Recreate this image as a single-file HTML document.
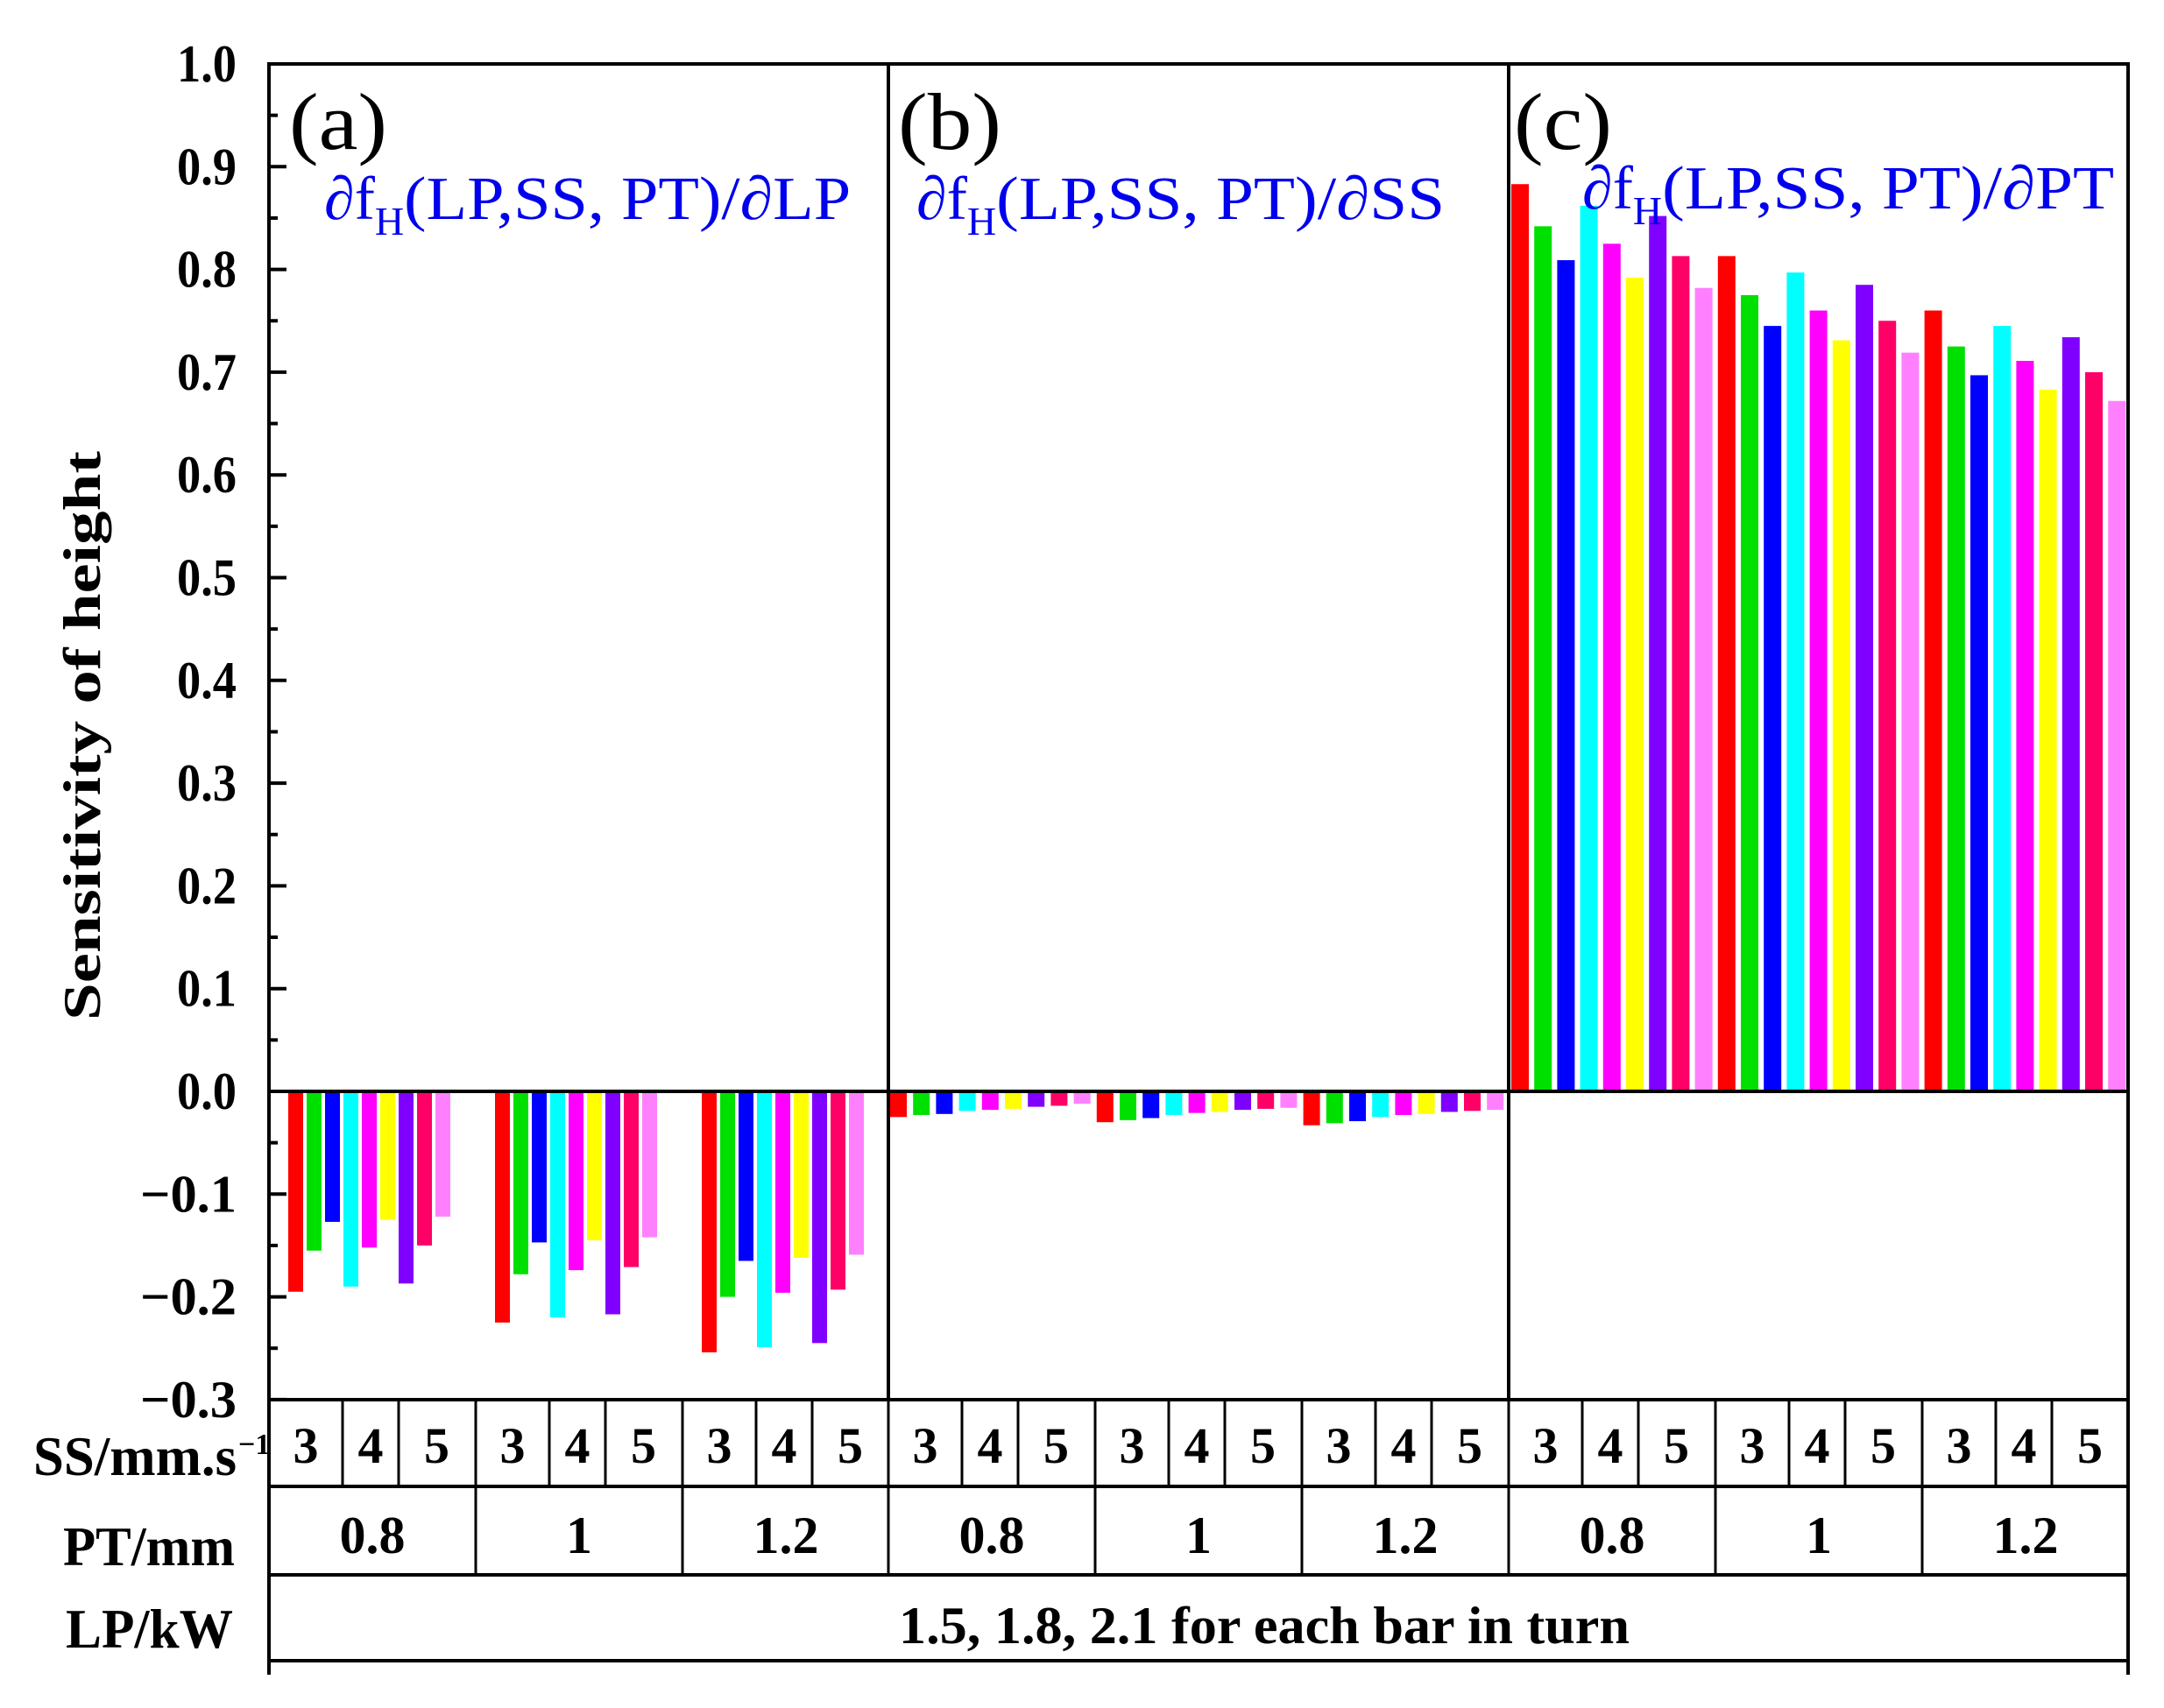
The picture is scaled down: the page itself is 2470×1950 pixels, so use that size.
<!DOCTYPE html>
<html><head><meta charset="utf-8"><style>
html,body{margin:0;padding:0;background:#fff;}
svg{display:block;}
.t{font-family:"Liberation Serif",serif;font-weight:bold;font-size:60px;fill:#000;}
.b{font-family:"Liberation Serif",serif;font-size:70px;fill:#0000ee;}
.p{font-family:"Liberation Serif",serif;font-size:92px;fill:#000;}
</style></head><body>
<svg id="s" width="2470" height="1950" viewBox="0 0 2470 1950" xmlns="http://www.w3.org/2000/svg">
<rect width="2470" height="1950" fill="#fff"/>
<g id="bars"></g>
<g stroke="#000" stroke-width="4" fill="none">
<rect x="307" y="73" width="2122" height="1525"/>
<line x1="1014" y1="73" x2="1014" y2="1598"/>
<line x1="1722" y1="73" x2="1722" y2="1598"/>
<line x1="307" y1="1246" x2="2429" y2="1246"/>
<line x1="307" y1="1598" x2="307" y2="1912"/>
<line x1="2429" y1="1598" x2="2429" y2="1912"/>
<line x1="307" y1="1697" x2="2429" y2="1697"/>
<line x1="307" y1="1798" x2="2429" y2="1798"/>
<line x1="307" y1="1896" x2="2429" y2="1896"/>
</g>
<g id="ticks" stroke="#000" stroke-width="4"></g>
<g id="cells" stroke="#000" stroke-width="3"></g>
<g class="t" text-anchor="end" id="yl"></g>
<g class="t">
<text x="38" y="1684" font-size="64" textLength="232" lengthAdjust="spacingAndGlyphs">SS/mm.s</text>
<text x="272" y="1660" font-size="34">−1</text>
<text x="72" y="1787" font-size="64" textLength="196" lengthAdjust="spacingAndGlyphs">PT/mm</text>
<text x="75" y="1881" font-size="64" textLength="191" lengthAdjust="spacingAndGlyphs">LP/kW</text>
</g>
<text class="t" font-size="70" transform="translate(114,840) rotate(-90)" text-anchor="middle" textLength="650" lengthAdjust="spacingAndGlyphs">Sensitivity of height</text>
<text class="p" x="330" y="170" textLength="112" lengthAdjust="spacingAndGlyphs">(a)</text>
<text class="p" x="1025" y="170" textLength="118" lengthAdjust="spacingAndGlyphs">(b)</text>
<text class="p" x="1728" y="170" textLength="112" lengthAdjust="spacingAndGlyphs">(c)</text>
<text class="b" x="370" y="250">∂f<tspan font-size="46" dy="18">H</tspan><tspan dy="-18" textLength="510" lengthAdjust="spacingAndGlyphs">(LP,SS, PT)/∂LP</tspan></text>
<text class="b" x="1046" y="250">∂f<tspan font-size="46" dy="18">H</tspan><tspan dy="-18" textLength="512" lengthAdjust="spacingAndGlyphs">(LP,SS, PT)/∂SS</tspan></text>
<text class="b" x="1806" y="238">∂f<tspan font-size="46" dy="18">H</tspan><tspan dy="-18" textLength="516" lengthAdjust="spacingAndGlyphs">(LP,SS, PT)/∂PT</tspan></text>
<g class="t" text-anchor="middle" id="tl">
<text x="1443" y="1876" font-size="60" textLength="834" lengthAdjust="spacingAndGlyphs">1.5, 1.8, 2.1 for each bar in turn</text>
</g>
</svg>
<script>
var NS="http://www.w3.org/2000/svg";
function el(p,t,a,txt){var e=document.createElementNS(NS,t);for(var k in a)e.setAttribute(k,a[k]);if(txt!==undefined)e.textContent=txt;document.getElementById(p).appendChild(e);return e;}
var C=["#ff0000","#00e000","#0000ff","#00ffff","#ff00ff","#ffff00","#8000ff","#ff0066","#ff80ff"];
var A=[-0.195,-0.155,-0.127,-0.19,-0.152,-0.125,-0.187,-0.15,-0.122,
-0.225,-0.178,-0.147,-0.22,-0.174,-0.145,-0.217,-0.171,-0.142,
-0.254,-0.2,-0.165,-0.249,-0.196,-0.162,-0.245,-0.193,-0.159];
var B=[-0.025,-0.023,-0.022,-0.019,-0.018,-0.017,-0.015,-0.014,-0.012,
-0.03,-0.028,-0.026,-0.023,-0.021,-0.02,-0.018,-0.017,-0.016,
-0.033,-0.031,-0.029,-0.025,-0.023,-0.022,-0.02,-0.019,-0.018];
var Cc=[0.883,0.842,0.809,0.862,0.825,0.792,0.852,0.813,0.782,
0.813,0.775,0.745,0.797,0.76,0.731,0.785,0.75,0.719,
0.76,0.725,0.697,0.745,0.711,0.683,0.734,0.7,0.672];
var Z=1246,S=1173;
function bar(x,w,v,c){var y=Z-v*S;el("bars","rect",{x:x,y:Math.min(y,Z),width:w,height:Math.abs(v*S),fill:c});}
for(var g=0;g<3;g++)for(var i=0;i<9;i++){var k=g*9+i;
bar(329+g*236+i*21,17,A[k],C[i]);
bar(1016+k*26.2,19,B[k],C[i]);
bar(1725+k*26.2,20,Cc[k],C[i]);}
for(var j=0;j<=26;j++){var y=73+j*58.65;el("ticks","line",{x1:307,y1:y,x2:j%2?317:327,y2:y});}
for(var j=0;j<=13;j++){var v=(10-j)/10;var y=73+j*117.3+20;
 var s=(v<0?"−":"")+Math.abs(v).toFixed(1);
 el("yl","text",{x:270,y:y,textLength:v<0?110:68,lengthAdjust:"spacingAndGlyphs"},s);}
var offs=[0,84,148,235];
var panels=[307,1014,1722];
panels.forEach(function(px){
 for(var g=0;g<3;g++){var gx=px+g*236;
  for(var c=0;c<3;c++){var x0=gx+offs[c],x1=gx+offs[c+1];
   if(c>0)el("cells","line",{x1:x0,y1:1598,x2:x0,y2:1697});
   el("tl","text",{x:(x0+x1)/2,y:1670,"font-size":58},String(3+c));}
  if(g>0)el("cells","line",{x1:gx,y1:1598,x2:gx,y2:1798});
  el("tl","text",{x:gx+118,y:1773,"font-size":60},["0.8","1","1.2"][g]);}
 if(px>307)el("cells","line",{x1:px,y1:1598,x2:px,y2:1798});
});
</script>
</body></html>
